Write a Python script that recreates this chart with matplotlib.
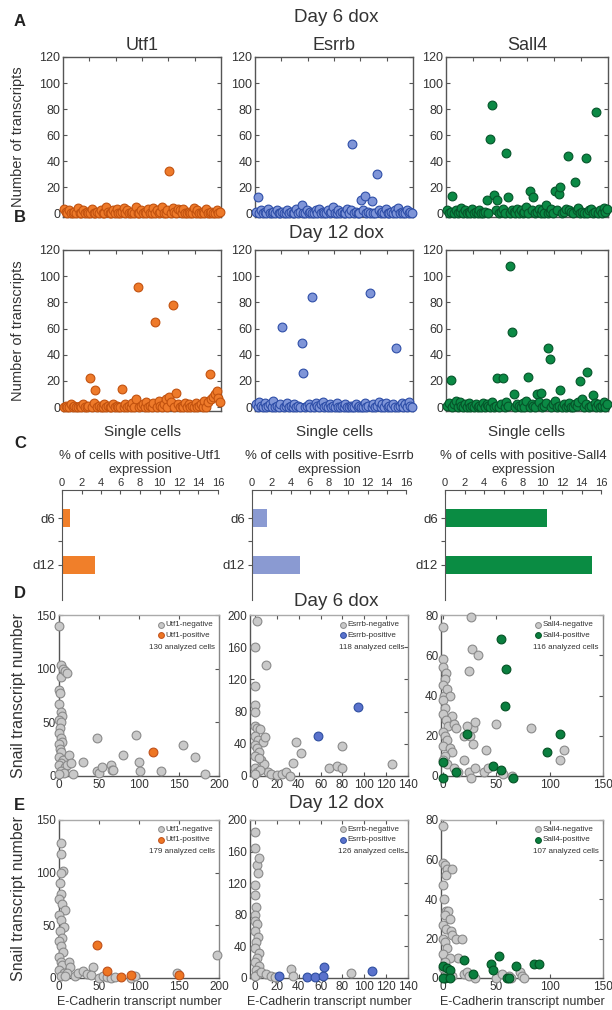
import matplotlib
matplotlib.use("Agg")
import matplotlib.pyplot as plt

plt.rcParams['font.family'] = ['Liberation Sans', 'DejaVu Sans']

# ---- panel A / B : transcripts per single cell ----
utf1_d6 = [
    3, 1, 0, 2, 0, 0, 1, 0, 4, 0, 0, 2, 0, 1, 0,
    0, 3, 0, 0, 1, 0, 2, 0, 0, 5, 1, 0, 0, 2, 0,
    3, 0, 0, 1, 4, 0, 2, 0, 0, 1, 0, 5, 0, 0, 2,
    0, 1, 0, 3, 0, 0, 4, 0, 2, 0, 1, 5, 0, 0, 2,
    32, 0, 4, 1, 0, 3, 2, 0, 3, 0, 0, 1, 0, 0, 4,
    0, 2, 0, 0, 1, 0, 3, 0, 0, 1, 0, 0, 2, 0, 1]
esrrb_d6 = [
    1, 12, 0, 2, 0, 1, 0, 3, 0, 0, 1, 0, 2, 0, 0,
    1, 0, 0, 2, 0, 1, 0, 0, 3, 0, 1, 6, 0, 0, 2,
    0, 1, 0, 0, 2, 0, 3, 0, 1, 0, 0, 2, 0, 1, 5,
    0, 0, 2, 0, 1, 0, 0, 3, 0, 2, 53, 0, 1, 0, 0,
    10, 2, 13, 0, 1, 0, 9, 0, 0, 30, 2, 0, 1, 0, 3,
    0, 0, 1, 0, 2, 0, 4, 0, 1, 0, 0, 2, 0, 1, 0]
sall4_d6 = [
    2, 0, 1, 13, 0, 2, 0, 1, 4, 0, 2, 0, 1, 0, 3,
    0, 1, 0, 2, 0, 0, 1, 10, 0, 57, 83, 14, 2, 10, 0,
    1, 3, 0, 46, 12, 0, 2, 1, 0, 3, 0, 2, 0, 1, 5,
    0, 17, 2, 12, 0, 1, 3, 0, 2, 0, 6, 0, 1, 3, 0,
    17, 2, 15, 20, 0, 1, 3, 44, 2, 1, 0, 24, 2, 4, 0,
    1, 0, 42, 0, 2, 3, 0, 1, 78, 0, 2, 0, 4, 1, 3]
utf1_d12 = [
    0, 1, 0, 0, 2, 0, 1, 0, 0, 1, 0, 2, 0, 0, 1,
    22, 0, 3, 13, 0, 1, 0, 0, 2, 0, 1, 0, 0, 2, 0,
    1, 0, 0, 14, 0, 2, 0, 1, 0, 3, 0, 6, 92, 0, 1,
    2, 0, 4, 0, 1, 0, 3, 65, 0, 5, 1, 0, 2, 6, 0,
    8, 4, 78, 0, 11, 2, 0, 1, 0, 3, 0, 2, 0, 1, 0,
    3, 0, 1, 2, 0, 5, 0, 4, 25, 6, 8, 10, 12, 7, 4]
esrrb_d12 = [
    2, 0, 4, 1, 0, 3, 0, 1, 2, 0, 5, 0, 1, 0, 2,
    61, 0, 1, 3, 0, 1, 0, 2, 0, 1, 0, 49, 26, 0, 1,
    2, 0, 84, 0, 3, 1, 0, 2, 4, 0, 1, 0, 2, 0, 1,
    0, 3, 0, 0, 1, 0, 2, 0, 0, 1, 0, 0, 2, 0, 1,
    0, 0, 3, 0, 1, 87, 0, 2, 0, 1, 4, 0, 2, 0, 3,
    0, 1, 0, 2, 0, 45, 0, 1, 3, 0, 2, 0, 4, 1, 0]
sall4_d12 = [
    1, 3, 21, 0, 2, 5, 0, 4, 1, 0, 2, 0, 3, 0, 1,
    0, 2, 0, 1, 0, 3, 0, 2, 1, 0, 4, 0, 1, 22, 0,
    2, 22, 0, 4, 1, 108, 57, 10, 0, 2, 1, 0, 3, 0, 5,
    23, 0, 2, 1, 0, 10, 4, 11, 0, 1, 3, 45, 37, 0, 2,
    5, 0, 1, 13, 0, 2, 0, 1, 3, 0, 0, 2, 1, 4, 20,
    6, 0, 2, 27, 0, 1, 9, 3, 0, 2, 0, 1, 4, 0, 2]

genes = ['Utf1', 'Esrrb', 'Sall4']

# ---- panel C : % positive cells ----
days = ['d6', 'd12']
pct_pos = {'Utf1': [0.8, 3.4], 'Esrrb': [1.6, 5.0], 'Sall4': [10.5, 15.1]}

# ---- panel D / E : E-Cadherin (x) vs Snail (y) ----
d6_neg_x = {
    'Utf1': [0, 3, 2, 5, 8, 10, 0, 1, 0, 2, 4, 0, 3, 1, 0, 2, 4, 0, 1, 3, 0, 5, 2, 0, 8, 3,
             12, 10, 15, 6, 18, 0, 30, 48, 48, 50, 54, 65, 66, 68, 80, 96, 100, 101, 128, 155, 170, 182],
    'Esrrb': [0, 2, 0, 10, 0, 0, 0, 2, 5, 0, 3, 7, 0, 2, 4, 0, 6, 8, 0, 12, 15, 20, 25, 28,
              32, 35, 38, 42, 68, 75, 80, 80, 125, 2, 5, 0, 4, 9],
    'Sall4': [0, 26, 0, 0, 3, 2, 0, 1, 4, 6, 0, 2, 0, 8, 3, 5, 10, 12, 0, 2, 4, 0, 6, 8, 2, 0,
              4, 10, 14, 24, 27, 33, 28, 30, 22, 20, 25, 28, 20, 24, 26, 30, 38, 40, 42, 50,
              56, 65, 82, 110, 113]}
d6_neg_y = {
    'Utf1': [140, 103, 92, 100, 98, 96, 80, 77, 67, 60, 56, 52, 50, 45, 40, 35, 32, 30, 25, 22, 18,
             15, 12, 10, 8, 5, 20, 10, 12, 3, 2, 2, 13, 35, 5, 3, 8, 10, 6, 6, 20, 38, 13, 5, 5, 29, 18, 2],
    'Esrrb': [160, 192, 112, 138, 88, 80, 62, 60, 58, 50, 45, 42, 38, 35, 30, 25, 20, 15, 10, 5,
              2, 1, 3, 5, 0, 16, 42, 28, 10, 12, 10, 37, 15, 5, 8, 3, 22, 48],
    'Sall4': [74, 79, 58, 54, 51, 48, 45, 40, 43, 40, 38, 34, 31, 30, 28, 25, 26, 24, 22, 20, 18,
              15, 14, 12, 10, 8, 6, 4, 2, 52, 63, 60, 24, 27, 25, 20, 20, 16, 8, 2, -1, 4, 2, 13,
              4, 26, 1, 0, 24, 8, 13]}
d6_pos_x = {'Utf1': [118], 'Esrrb': [58, 94],
            'Sall4': [0, 0, 12, 22, 47, 54, 54, 59, 58, 66, 97, 110]}
d6_pos_y = {'Utf1': [22], 'Esrrb': [50, 86],
            'Sall4': [7, -1, 2, 21, 5, 3, 68, 53, 35, -1, 12, 21]}

d12_neg_x = {
    'Utf1': [3, 2, 5, 3, 1, 2, 0, 4, 8, 0, 2, 6, 1, 4, 0, 3, 5, 0, 2, 4, 0, 6, 3, 12, 14, 10, 8,
             20, 24, 30, 35, 42, 40, 50, 55, 60, 65, 70, 90, 95, 148, 198],
    'Esrrb': [0, 0, 2, 4, 3, 0, 0, 1, 0, 0, 2, 0, 3, 1, 0, 4, 2, 0, 4, 1, 3, 0, 6, 10, 15, 18,
              33, 35, 88],
    'Sall4': [0, 0, 2, 4, 3, 8, 0, 1, 3, 5, 2, 6, 0, 3, 7, 8, 12, 18, 0, 2, 4, 0, 14, 6, 2, 0,
              4, 8, 20, 22, 24, 30, 50, 55, 62, 64, 72, 74, 76]}
d12_neg_y = {
    'Utf1': [128, 118, 102, 100, 90, 80, 75, 70, 65, 60, 55, 48, 45, 38, 35, 30, 25, 20, 15, 12,
             8, 5, 2, 15, 10, 5, 2, 2, 5, 7, 4, 10, 3, 0, 2, 1, 0, 1, 0, 2, 5, 22],
    'Esrrb': [185, 165, 143, 152, 133, 118, 105, 90, 80, 72, 68, 60, 52, 45, 38, 32, 25, 20, 15,
              10, 5, 2, 8, 5, 3, 1, 12, 3, 6],
    'Sall4': [77, 58, 57, 55, 52, 55, 47, 40, 34, 34, 32, 30, 27, 25, 24, 22, 20, 20, 20, 18, 15,
              12, 10, 10, 8, 5, 3, 1, 2, 3, 1, 0, 0, 2, 1, 0, 3, 1, 0]}
d12_pos_x = {'Utf1': [48, 60, 78, 90, 150],
             'Esrrb': [22, 48, 55, 62, 63, 107],
             'Sall4': [0, 2, 4, 6, 0, 6, 20, 28, 45, 47, 52, 60, 62, 68, 85, 90]}
d12_pos_y = {'Utf1': [31, 7, 1, 3, 3],
             'Esrrb': [3, 1, 1, 2, 14, 9],
             'Sall4': [6, 0, 5, 4, 0, 0, 9, 2, 7, 4, 11, 0, 0, 6, 7, 7]}
n_cells_d6 = {'Utf1': 130, 'Esrrb': 118, 'Sall4': 116}
n_cells_d12 = {'Utf1': 179, 'Esrrb': 126, 'Sall4': 107}

# colours
fill = {'Utf1': '#EE7A2A', 'Esrrb': '#7F95D8', 'Sall4': '#0B8A45'}
edge = {'Utf1': '#C2520F', 'Esrrb': '#2E4EA8', 'Sall4': '#05552A'}
bar_col = {'Utf1': '#F07F2A', 'Esrrb': '#8A9AD2', 'Sall4': '#0A8C43'}
pos_col = {'Utf1': '#EE7623', 'Esrrb': '#5A72CC', 'Sall4': '#0A7F3F'}
pos_edge = {'Utf1': '#C0501A', 'Esrrb': '#2E4EA0', 'Sall4': '#045224'}
grey_fc, grey_ec = '#C9C9C9', '#8A8A8A'
spine_c = '#555555'
txt_c = '#333333'

W, H = 612, 1010


def pos(x0, y0, x1, y1):
    return [x0 / W, 1 - y1 / H, (x1 - x0) / W, (y1 - y0) / H]


fig = plt.figure(figsize=(W / 100, H / 100), dpi=100)

cols_ab = [(63, 221), (255, 413), (446, 608)]
cols_c = [(62, 218), (252, 406), (445, 601)]
cols_de = [(59, 219), (250, 408), (441, 603)]


def style_box(ax):
    for s in ax.spines.values():
        s.set_color(spine_c)
        s.set_linewidth(1.0)
    ax.tick_params(direction='in', colors=spine_c, labelcolor=txt_c, length=3)


# rows A and B
rows_ab = [((utf1_d6, esrrb_d6, sall4_d6), (57, 217)),
           ((utf1_d12, esrrb_d12, sall4_d12), (250, 411))]
for row, (data, (ytop, ybot)) in enumerate(rows_ab):
    for i, g in enumerate(genes):
        x0, x1 = cols_ab[i]
        ax = fig.add_axes(pos(x0, ytop, x1, ybot))
        ys = data[i]
        ax.scatter(range(len(ys)), ys, s=40, c=fill[g], edgecolors=edge[g],
                   linewidths=0.8, zorder=3, clip_on=False)
        ax.set_xlim(-0.5, len(ys) - 0.5)
        ax.set_ylim(-3, 120)
        ax.set_yticks(range(0, 121, 20))
        ax.set_xticks([-0.5 + len(ys) * k / 6 for k in range(1, 6)])
        ax.tick_params(axis='x', bottom=False, top=True, labelbottom=False)
        ax.tick_params(axis='y', right=True, labelsize=9, pad=2)
        style_box(ax)
        if i == 0:
            ax.set_ylabel('Number of transcripts', fontsize=10.5, color=txt_c)
            ax.yaxis.set_label_coords((25 - x0) / (x1 - x0), 0.5)
        if row == 0:
            fig.text((x0 + x1) / 2 / W, 1 - 45 / H, g, ha='center', va='center',
                     fontsize=13, color=txt_c)
        else:
            ax.set_xlabel('Single cells', fontsize=11, color=txt_c)
            ax.xaxis.set_label_coords(0.5, -(425 - ybot) / (ybot - ytop))

# row C
for i, g in enumerate(genes):
    x0, x1 = cols_c[i]
    ax = fig.add_axes(pos(x0, 490, x1, 600))
    ax.barh([0, 1], pct_pos[g], height=0.4, color=bar_col[g])
    ax.set_xlim(0, 16)
    ax.set_ylim(1.745, -0.596)
    ax.set_xticks(range(0, 17, 2))
    ax.set_yticks([0, 0.5, 1])
    ax.set_yticklabels([days[0], '', days[1]])
    ax.xaxis.tick_top()
    ax.tick_params(axis='x', direction='in', length=3, labelsize=8, pad=1.5,
                   colors=spine_c, labelcolor=txt_c)
    ax.tick_params(axis='y', direction='out', length=3, labelsize=9.5, pad=2,
                   colors=spine_c, labelcolor=txt_c)
    for s in ['right', 'bottom']:
        ax.spines[s].set_visible(False)
    for s in ['left', 'top']:
        ax.spines[s].set_color(spine_c)
    fig.text((x0 + x1) / 2 / W, 1 - 463 / H,
             '% of cells with positive-' + g + '\nexpression', ha='center', va='center',
             fontsize=9.5, color=txt_c, linespacing=1.15)

# rows D and E
xlims = {'Utf1': (0, 200), 'Esrrb': (-4.5, 140), 'Sall4': (-2, 150)}
ylims = {'Utf1': (0, 150), 'Esrrb': (0, 200), 'Sall4': (0, 80)}
xt = {'Utf1': range(0, 201, 50), 'Esrrb': range(0, 141, 20), 'Sall4': range(0, 151, 50)}
yt = {'Utf1': range(0, 151, 50), 'Esrrb': range(0, 201, 40), 'Sall4': range(0, 81, 20)}
leg_x = {'Utf1': 0.64, 'Esrrb': 0.59, 'Sall4': 0.60}

rows_de = [(d6_neg_x, d6_neg_y, d6_pos_x, d6_pos_y, n_cells_d6, (615, 776)),
           (d12_neg_x, d12_neg_y, d12_pos_x, d12_pos_y, n_cells_d12, (820, 978))]
for row, (nx, ny, px, py, nc, (ytop, ybot)) in enumerate(rows_de):
    for i, g in enumerate(genes):
        x0, x1 = cols_de[i]
        ax = fig.add_axes(pos(x0, ytop, x1, ybot))
        ax.scatter(nx[g], ny[g], s=40, c=grey_fc, edgecolors=grey_ec,
                   linewidths=0.8, zorder=3, clip_on=False)
        ax.scatter(px[g], py[g], s=40, c=pos_col[g], edgecolors=pos_edge[g],
                   linewidths=0.8, zorder=4, clip_on=False)
        ax.set_xlim(*xlims[g])
        ax.set_ylim(*ylims[g])
        ax.set_xticks(list(xt[g]))
        ax.set_yticks(list(yt[g]))
        ax.tick_params(labelsize=8.5, right=True, top=True, pad=2)
        style_box(ax)
        ax.spines['top'].set_color('#AAAAAA')
        ax.spines['right'].set_color('#888888')
        # legend drawn by hand in axes coordinates
        lx = leg_x[g]
        for yy, fc, ec, lab in [(0.94, grey_fc, grey_ec, g + '-negative'),
                                (0.875, pos_col[g], pos_edge[g], g + '-positive')]:
            ax.plot([lx], [yy], 'o', ms=4.2, mfc=fc, mec=ec, mew=0.7,
                    transform=ax.transAxes, zorder=6)
            ax.text(lx + 0.025, yy, lab, transform=ax.transAxes, ha='left', va='center',
                    fontsize=5.8, color=txt_c, zorder=6)
        ax.text(0.975, 0.80, '%d analyzed cells' % nc[g], transform=ax.transAxes,
                ha='right', va='center', fontsize=5.8, color=txt_c, zorder=6)
        if i == 0:
            ax.set_ylabel('Snail transcript number', fontsize=11.5, color=txt_c)
            ax.yaxis.set_label_coords((26 - x0) / (x1 - x0), 0.5)
        if row == 1:
            ax.set_xlabel('E-Cadherin transcript number', fontsize=9, color=txt_c, labelpad=2)

# row titles and panel letters
for txt, y in [('Day 6 dox', 18), ('Day 12 dox', 233), ('Day 6 dox', 601), ('Day 12 dox', 803)]:
    fig.text(336 / W, 1 - y / H, txt, ha='center', va='center', fontsize=13.5, color=txt_c)
for letter, y in [('A', 22), ('B', 217), ('C', 443), ('D', 593), ('E', 805)]:
    fig.text(14 / W, 1 - y / H, letter, ha='left', va='center', fontsize=12,
             fontweight='bold', color='#222222')

fig.savefig('out.png', dpi=100)
